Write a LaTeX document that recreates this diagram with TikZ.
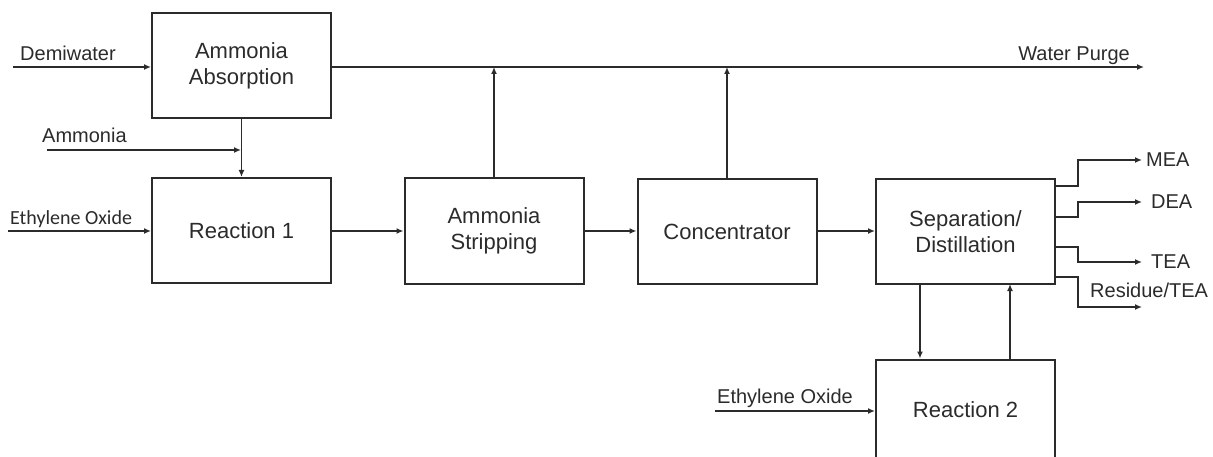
\documentclass[tikz,border=0pt]{standalone}
\usepackage{fontspec}
\setmainfont{Liberation Sans}
\newfontfamily\calib{Carlito}
\usetikzlibrary{arrows.meta}
\definecolor{ink}{HTML}{2B2B2B}
\tikzset{
  unit/.style={draw=ink, line width=2pt, minimum width=179pt, minimum height=105pt, inner sep=0pt, align=center, font=\fontsize{22}{26}\selectfont, text=ink},
  flow/.style={draw=ink, line width=1.4pt, -{Latex[length=7pt,width=6pt]}},
  pipe/.style={draw=ink, line width=1.4pt},
  lbl/.style={font=\fontsize{20}{24}\selectfont, text=ink, inner sep=0pt},
}
\begin{document}
\begin{tikzpicture}[x=1pt,y=-1pt]
\useasboundingbox (0,0) rectangle (1213,457);
\clip (0,0) rectangle (1213,457);
% units
\node[unit] (abs) at (241.5,66) {Ammonia\\Absorption};
\node[unit] (r1) at (241.5,230.5) {Reaction 1};
\node[unit] (strip) at (494,231) {Ammonia\\Stripping};
\node[unit] (conc) at (727,231.5) {Concentrator};
\node[unit] (sep) at (965.5,231.5) {Separation/\\Distillation};
\node[unit, minimum height=105pt, anchor=north] (r2) at (965.5,358.5) {};
\node[lbl, font=\fontsize{22}{26}\selectfont] (r2t) at (965.5,410) {Reaction 2};
% free ends
\coordinate (dwin) at (13,67);
\coordinate (nh3in) at (47,150);
\coordinate (eo1in) at (8,231);
\coordinate (eo2in) at (715,411);
\coordinate (wp) at (1144,67);
\coordinate (j1) at (241,150);
\coordinate (mea) at (1142,160);
\coordinate (dea) at (1142,202);
\coordinate (tea) at (1142,262);
\coordinate (res) at (1142,307);
% labels
\node[lbl, anchor=base west] (ldw) at (20,61) {Demiwater};
\node[lbl, anchor=base west] (lnh3) at (42,143) {Ammonia};
\node[lbl, anchor=base west, font=\calib\fontsize{20}{24}\selectfont] (leo1) at (10,225) {Ethylene Oxide};
\node[lbl, anchor=base west] (leo2) at (717,403) {Ethylene Oxide};
\node[lbl, anchor=base east] (lwp) at (1130,61) {Water Purge};
\node[lbl, anchor=west] (lmea) at (1146,160) {MEA};
\node[lbl, anchor=west] (ldea) at (1151,202) {DEA};
\node[lbl, anchor=west] (ltea) at (1151,262) {TEA};
\node[lbl, anchor=base west] (lres) at (1090,297) {Residue/TEA};
% feeds
\draw[flow] (dwin) -- (dwin -| abs.west);
\draw[flow] (nh3in) -- (j1);
\draw[flow] (eo1in) -- (eo1in -| r1.west);
\draw[flow] (eo2in) -- (eo2in -| r2.west);
\draw[flow] (abs.south) -- (r1.north);
% main line
\draw[flow] (r1.east |- eo1in) -- (strip.west |- eo1in);
\draw[flow] (strip.east |- eo1in) -- (conc.west |- eo1in);
\draw[flow] (conc.east |- eo1in) -- (sep.west |- eo1in);
% water purge
\draw[flow] (abs.east |- wp) -- (wp);
\draw[flow] (strip.north) -- (strip.north |- wp);
\draw[flow] (conc.north) -- (conc.north |- wp);
% products
\draw[flow] (sep.east |- 0,186) -| (1078,160) -- (mea);
\draw[flow] (sep.east |- 0,217) -| (1078,202) -- (dea);
\draw[flow] (sep.east |- 0,247) -| (1078,262) -- (tea);
\draw[flow] (sep.east |- 0,277) -| (1078,307) -- (res);
% recycle
\draw[flow] (920,284) -- (920,358.5);
\draw[flow] (1010,358.5) -- (1010,284);
\end{tikzpicture}
\end{document}
